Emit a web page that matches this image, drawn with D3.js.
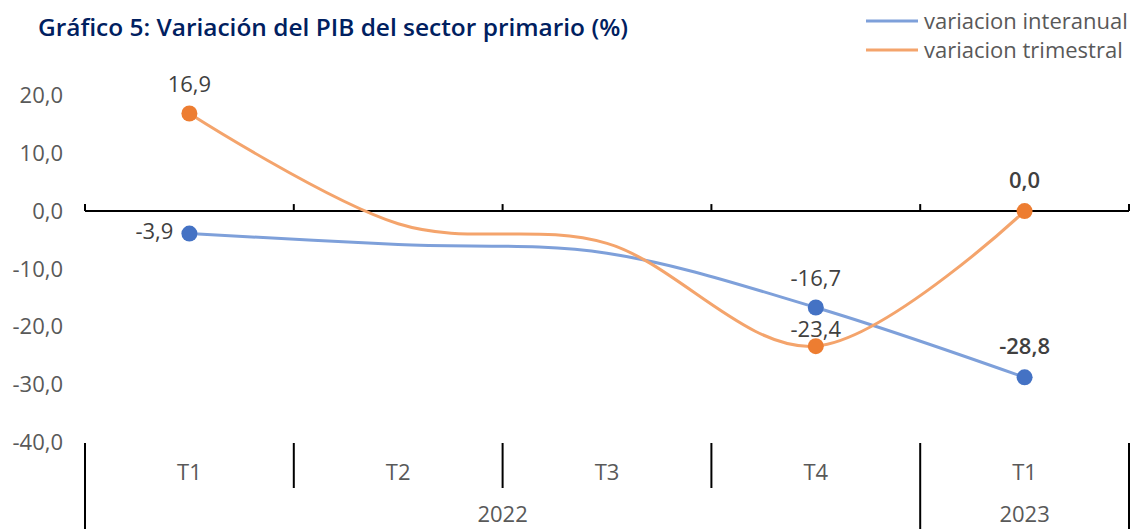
<!DOCTYPE html>
<html>
<head>
<meta charset="utf-8">
<script src="https://cdn.jsdelivr.net/npm/d3@7"></script>
<style>
  body { margin: 0; background: #fff; }
  svg { display: block; font-family: "Open Sans", "Noto Sans", sans-serif; }
</style>
</head>
<body>
<svg id="chart" width="1134" height="529"></svg>
<script>
const quarters = ["T1", "T2", "T3", "T4", "T1"];
const years = [{label: "2022", from: 0, to: 4}, {label: "2023", from: 4, to: 5}];
const interanual = [-3.9, -5.8, -7.3, -16.7, -28.8];
const trimestral = [16.9, -2.2, -5.6, -23.4, 0.0];
const yTicks = [20, 10, 0, -10, -20, -30, -40];
const seriesNames = ["variacion interanual", "variacion trimestral"];
const markedPoints = [0, 3, 4];

const svg = d3.select("#chart");
const left = 85, right = 1129;
const fmt = v => d3.format(".1f")(v).replace(".", ",").replace("−", "-");

const x = d3.scaleBand().domain(d3.range(quarters.length)).range([left, right]).paddingInner(0).paddingOuter(0);
const y = d3.scaleLinear().domain([-40, 20]).range([442, 95.6]);
const cx = i => x(i) + x.bandwidth() / 2;

// Title
svg.append("text").attr("x", 38).attr("y", 36)
  .attr("fill", "#002060").attr("font-size", 24).attr("font-weight", 600)
  .attr("textLength", 590).attr("lengthAdjust", "spacingAndGlyphs")
  .text("Gráfico 5: Variación del PIB del sector primario (%)");

// Legend
const legColors = ["#7EA0DA", "#F4A46C"];
seriesNames.forEach((n, i) => {
  const ly = 21 + i * 29;
  svg.append("line").attr("x1", 866).attr("x2", 918).attr("y1", ly).attr("y2", ly)
    .attr("stroke", legColors[i]).attr("stroke-width", 3);
  svg.append("text").attr("x", 924).attr("y", ly).attr("dy", "0.35em")
    .attr("fill", "#595959").attr("font-size", 22).text(n);
});

// Y axis labels
svg.append("g").selectAll("text").data(yTicks).join("text")
  .attr("x", 63).attr("y", d => y(d)).attr("dy", "0.35em")
  .attr("text-anchor", "end").attr("fill", "#595959").attr("font-size", 22)
  .text(d => fmt(d));

// Zero axis line with upward ticks
const ax = svg.append("g");
ax.append("line").attr("x1", left).attr("x2", right).attr("y1", y(0)).attr("y2", y(0))
  .attr("stroke", "#000").attr("stroke-width", 2);
ax.selectAll("line.tk").data(d3.range(quarters.length + 1)).join("line").attr("class", "tk")
  .attr("x1", i => left + i * x.bandwidth()).attr("x2", i => left + i * x.bandwidth())
  .attr("y1", y(0)).attr("y2", y(0) - 7).attr("stroke", "#000").attr("stroke-width", 2);

// Category axis at bottom
const bot = svg.append("g");
const boundaries = d3.range(quarters.length + 1).map(i => left + i * x.bandwidth());
const yearEdges = new Set();
years.forEach(yr => { yearEdges.add(yr.from); yearEdges.add(yr.to); });
bot.selectAll("line").data(d3.range(quarters.length + 1)).join("line")
  .attr("x1", i => boundaries[i]).attr("x2", i => boundaries[i])
  .attr("y1", 443).attr("y2", i => yearEdges.has(i) ? 529 : 488)
  .attr("stroke", "#000").attr("stroke-width", 2);
bot.selectAll("text.q").data(quarters).join("text").attr("class", "q")
  .attr("x", (d, i) => cx(i)).attr("y", 472).attr("dy", "0.35em")
  .attr("text-anchor", "middle").attr("fill", "#595959").attr("font-size", 22).text(d => d);
bot.selectAll("text.yr").data(years).join("text").attr("class", "yr")
  .attr("x", d => (boundaries[d.from] + boundaries[d.to]) / 2).attr("y", 514).attr("dy", "0.35em")
  .attr("text-anchor", "middle").attr("fill", "#595959").attr("font-size", 22).text(d => d.label);

// Lines
const line = d3.line().x((d, i) => cx(i)).y(d => y(d)).curve(d3.curveCardinal.tension(0));
const series = [
  {vals: interanual, line: "#7EA0DA", dot: "#4472C4"},
  {vals: trimestral, line: "#F4A46C", dot: "#ED7D31"}
];
series.forEach(s => {
  svg.append("path").datum(s.vals).attr("d", line).attr("fill", "none")
    .attr("stroke", s.line).attr("stroke-width", 3);
});
series.forEach(s => {
  svg.append("g").selectAll("circle").data(markedPoints).join("circle")
    .attr("cx", i => cx(i)).attr("cy", i => y(s.vals[i])).attr("r", 8)
    .attr("fill", s.dot);
});

// Data labels
const labels = [
  {s: 1, i: 0, dx: 0, dy: -29, anchor: "middle", bold: false},
  {s: 0, i: 0, dx: -16, dy: -2, anchor: "end", bold: false},
  {s: 0, i: 3, dx: 0, dy: -29, anchor: "middle", bold: false},
  {s: 1, i: 3, dx: 0, dy: -17, anchor: "middle", bold: false},
  {s: 1, i: 4, dx: 0, dy: -31, anchor: "middle", bold: true},
  {s: 0, i: 4, dx: 0, dy: -31, anchor: "middle", bold: true}
];
svg.append("g").selectAll("text").data(labels).join("text")
  .attr("x", d => cx(d.i) + d.dx).attr("y", d => y(series[d.s].vals[d.i]) + d.dy).attr("dy", "0.35em")
  .attr("text-anchor", d => d.anchor).attr("fill", "#404040").attr("font-size", 22)
  .attr("font-weight", d => d.bold ? 600 : 400)
  .text(d => fmt(series[d.s].vals[d.i]));
</script>
</body>
</html>
